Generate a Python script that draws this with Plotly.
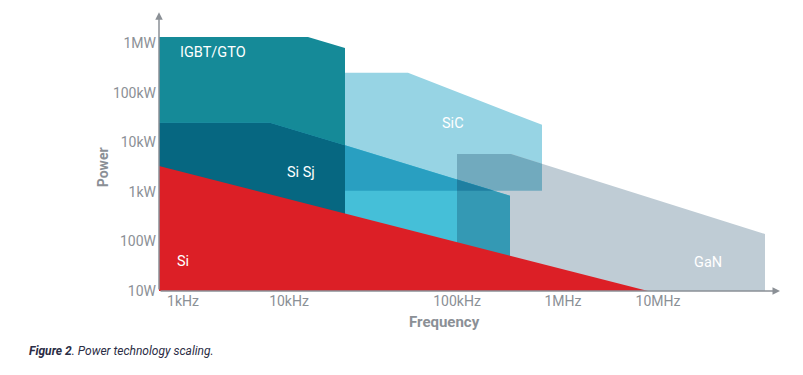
import plotly.graph_objects as go

# ---- data (schematic: x = position along frequency axis, y = log10(Power/W)) ----
freq_tick_pos = [24, 130, 298, 404, 499]
freq_tick_labels = ["1kHz", "10kHz", "100kHz", "1MHz", "10MHz"]
power_tick_pos = [1, 2, 3, 4, 5, 6]
power_tick_labels = ["10W", "100W", "1kW", "10kW", "100kW", "1MW"]

igbt_x = [0, 149, 186, 186, 0]
igbt_y = [6.12, 6.12, 5.90, 1.0, 1.0]
sic_x = [186, 249, 383, 383, 186]
sic_y = [5.40, 5.40, 4.35, 3.02, 3.02]
sisj_x = [0, 111, 186, 351, 351, 0]
sisj_y = [4.39, 4.39, 3.94, 2.92, 1.0, 1.0]
gan_x = [298, 352, 606, 606, 298]
gan_y = [3.76, 3.76, 2.15, 1.0, 1.0]
si_x = [0, 489, 0]
si_y = [3.52, 1.0, 1.0]

labels = ["IGBT/GTO", "SiC", "Si Sj", "Si", "GaN"]
label_x = [19, 281, 126, 16, 533]
label_y = [5.8, 4.37, 3.39, 1.59, 1.57]

C_IGBT = (21, 138, 152)
C_SIC = (151, 212, 228)
C_SISJ = (69, 191, 216)
C_GAN = (191, 204, 213)
C_SI = "#dc1f26"


def clip(subject, clipper):
    """Sutherland-Hodgman clipping of polygon 'subject' by convex polygon 'clipper'."""
    def area(p):
        return sum(p[i][0] * p[(i + 1) % len(p)][1] - p[(i + 1) % len(p)][0] * p[i][1] for i in range(len(p)))
    if area(clipper) < 0:
        clipper = clipper[::-1]

    def inside(p, a, b):
        return (b[0] - a[0]) * (p[1] - a[1]) - (b[1] - a[1]) * (p[0] - a[0]) >= -1e-12

    def inter(p, q, a, b):
        x1, y1 = p; x2, y2 = q; x3, y3 = a; x4, y4 = b
        d = (x1 - x2) * (y3 - y4) - (y1 - y2) * (x3 - x4)
        t = ((x1 - x3) * (y3 - y4) - (y1 - y3) * (x3 - x4)) / d
        return (x1 + t * (x2 - x1), y1 + t * (y2 - y1))

    out = list(subject)
    for i in range(len(clipper)):
        a, b = clipper[i], clipper[(i + 1) % len(clipper)]
        inp = out
        out = []
        if not inp:
            break
        s = inp[-1]
        for e in inp:
            if inside(e, a, b):
                if not inside(s, a, b):
                    out.append(inter(s, e, a, b))
                out.append(e)
            elif inside(s, a, b):
                out.append(inter(s, e, a, b))
            s = e
    return out


def mult(*cols):
    r, g, b = 255.0, 255.0, 255.0
    for c in cols:
        r *= c[0] / 255; g *= c[1] / 255; b *= c[2] / 255
    return "rgb(%d,%d,%d)" % (round(r), round(g), round(b))


def P(xs, ys):
    return list(zip(xs, ys))

igbt = P(igbt_x, igbt_y)
sic = P(sic_x, sic_y)
sisj = P(sisj_x, sisj_y)
gan = P(gan_x, gan_y)

pieces = [
    (igbt, mult(C_IGBT)),
    (sic, mult(C_SIC)),
    (gan, mult(C_GAN)),
    (clip(gan, sic), mult(C_GAN, C_SIC)),
    (sisj, mult(C_SISJ)),
    (clip(sisj, igbt), mult(C_SISJ, C_IGBT)),
    (clip(sisj, sic), mult(C_SISJ, C_SIC)),
    (clip(sisj, gan), mult(C_SISJ, C_GAN)),
    (clip(clip(sisj, sic), gan), mult(C_SISJ, C_SIC, C_GAN)),
]

fig = go.Figure()
for poly, col in pieces:
    if len(poly) < 3:
        continue
    xs = [p[0] for p in poly] + [poly[0][0]]
    ys = [p[1] for p in poly] + [poly[0][1]]
    fig.add_trace(go.Scatter(x=xs, y=ys, fill="toself", fillcolor=col, mode="lines",
                             line=dict(width=0, color=col), hoverinfo="skip", showlegend=False))
fig.add_trace(go.Scatter(x=si_x + [si_x[0]], y=si_y + [si_y[0]], fill="toself", fillcolor=C_SI,
                         mode="lines", line=dict(width=0, color=C_SI), hoverinfo="skip", showlegend=False))

FONT = "Roboto, sans-serif"
GRAY = "#8b9096"

for t, x, y in zip(labels, label_x, label_y):
    fig.add_annotation(x=x, y=y, text=t, showarrow=False, xanchor="left", yanchor="middle",
                       font=dict(family=FONT, size=14.5, color="white"))

# axis arrows
fig.add_annotation(x=621, y=1.0, ax=0, ay=1.0, axref="x", ayref="y", xref="x", yref="y",
                   text="", showarrow=True, arrowhead=2, arrowsize=1, arrowwidth=1.5, arrowcolor=GRAY)
fig.add_annotation(x=0, y=6.62, ax=0, ay=1.0, axref="x", ayref="y", xref="x", yref="y",
                   text="", showarrow=True, arrowhead=2, arrowsize=1, arrowwidth=1.5, arrowcolor=GRAY)

# axis titles
fig.add_annotation(x=-0.090, y=0.446, xref="paper", yref="paper", text="<b>Power</b>", showarrow=False,
                   textangle=-90, xanchor="center", yanchor="middle",
                   font=dict(family=FONT, size=14, color=GRAY))
fig.add_annotation(x=0.461, y=-0.1115, xref="paper", yref="paper", text="<b>Frequency</b>", showarrow=False,
                   xanchor="center", yanchor="middle",
                   font=dict(family=FONT, size=15, color=GRAY))

fig.add_annotation(x=-0.213, y=-0.216, xref="paper", yref="paper", xanchor="left", yanchor="middle",
                   text="<b><i>Figure 2</i></b><i>. Power technology scaling.</i>", showarrow=False,
                   font=dict(family=FONT, size=12, color="#2b2d45"))

# page body has an 8px default margin, so the figure is 8px smaller and margins shifted
fig.update_layout(
    width=795, height=367,
    margin=dict(l=151, r=24, t=5, b=84),
    paper_bgcolor="white", plot_bgcolor="white",
    font=dict(family=FONT, color=GRAY, size=14),
    xaxis=dict(range=[0, 620], tickvals=freq_tick_pos, ticktext=freq_tick_labels, showgrid=False,
               zeroline=False, showline=False, ticks="", ticklabelstandoff=0, automargin=False,
               tickfont=dict(family=FONT, size=14, color=GRAY)),
    yaxis=dict(range=[1.0, 6.605], tickvals=power_tick_pos, ticktext=power_tick_labels, showgrid=False,
               zeroline=False, showline=False, ticks="", ticklabelstandoff=2, automargin=False,
               tickfont=dict(family=FONT, size=14, color=GRAY)),
)

fig.write_html("out.html")
